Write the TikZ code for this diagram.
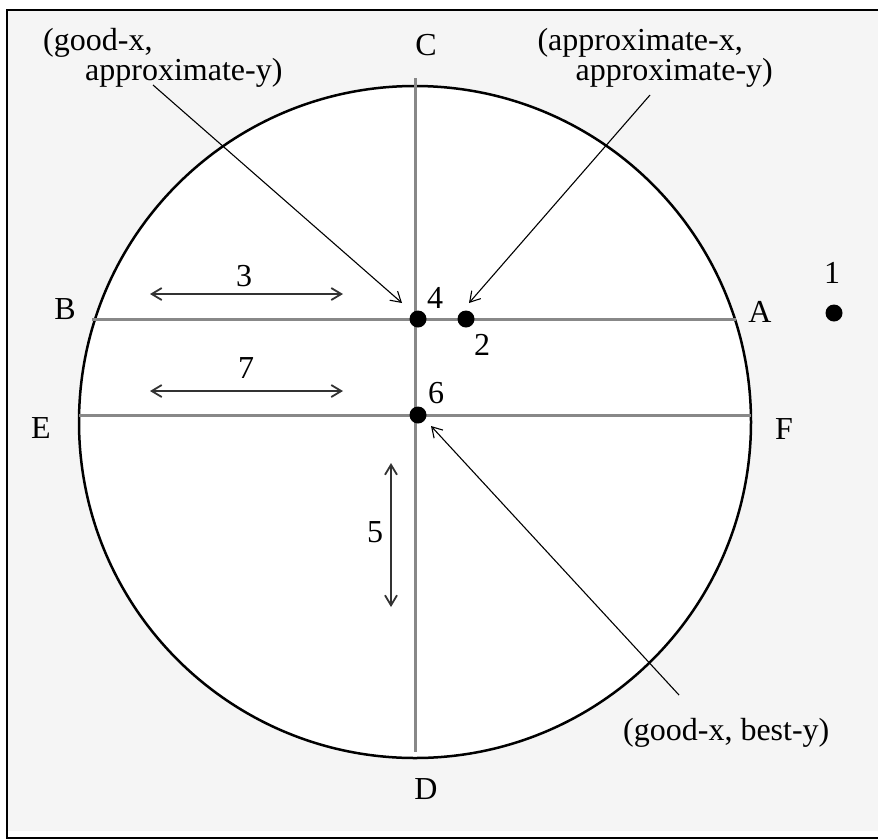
\documentclass[tikz,border=0pt]{standalone}
\usepackage{fontspec}
\setmainfont{Liberation Serif}
\usetikzlibrary{arrows.meta}
\definecolor{bgc}{RGB}{245,245,245}
\definecolor{gln}{RGB}{136,136,136}
\definecolor{dar}{RGB}{51,51,51}
\begin{document}
\begin{tikzpicture}[x=1pt,y=-1pt,
  lbl/.style={inner sep=0pt, font=\fontsize{32}{30}\selectfont},
  gline/.style={draw=gln, line width=3pt},
  dot/.style={circle, fill=black, inner sep=0pt, minimum size=17pt},
  dim/.style={draw=dar, line width=1.8pt, {Straight Barb[length=10pt,width=12pt]}-{Straight Barb[length=10pt,width=12pt]}},
  ptr/.style={draw=black, line width=1.1pt, -{Straight Barb[length=10pt,width=12pt]}}]
\fill[white] (0,0) rectangle (878,839);
\useasboundingbox (0,0) rectangle (878,839);
\fill[bgc] (7,10) rectangle (878,831);
\draw[line width=2.2pt] (878,10) -- (7,10) -- (7,838) -- (878,838);
% circle
\node[circle, draw, line width=2.5pt, fill=white, inner sep=0pt, minimum size=672pt] (circ) at (415,422) {};
% coordinates of the lines
\coordinate (Cend) at (415,78);
\coordinate (Dend) at (415,752);
\coordinate (Bend) at (92,319);
\coordinate (Aend) at (736,319);
\coordinate (Eend) at (79,415);
\coordinate (Fend) at (751,415);
\draw[gline] (Cend) -- (Dend);
\draw[gline] (Bend) -- (Aend);
\draw[gline] (Eend) -- (Fend);
% dots
\node[dot] (p4) at (418,319) {};
\node[dot] (p2) at (466,319) {};
\node[dot] (p6) at (418,415) {};
\node[dot] (p1) at (834,313) {};
% labels
\node[lbl] (l1) at (832,273) {1};
\node[lbl] (l2) at (482,345) {2};
\node[lbl] (l4) at (435,298) {4};
\node[lbl] (l6) at (436,393) {6};
\node[lbl] (lA) at (760,312) {A};
\node[lbl] (lB) at (65,309) {B};
\node[lbl] (lC) at (426,45) {C};
\node[lbl] (lD) at (426,789) {D};
\node[lbl] (lE) at (41,428) {E};
\node[lbl] (lF) at (784,429) {F};
\node[lbl] (l3) at (244,276) {3};
\node[lbl] (l7) at (246,368) {7};
\node[lbl] (l5) at (375,532) {5};
% dimension arrows
\coordinate (d3a) at (150,294); \coordinate (d3b) at (343,294);
\coordinate (d7a) at (150,391); \coordinate (d7b) at (343,391);
\coordinate (d5a) at (391,463); \coordinate (d5b) at (391,607);
\draw[dim] (d3a) -- (d3b);
\draw[dim] (d7a) -- (d7b);
\draw[dim] (d5a) -- (d5b);
% annotations
\node[lbl, anchor=base west] (ga1) at (43,50) {(good-x,};
\node[lbl, anchor=base west] (ga2) at (85,80) {approximate-y)};
\node[lbl, anchor=base east] (aa1) at (743,50) {(approximate-x,};
\node[lbl, anchor=base east] (aa2) at (773,80) {approximate-y)};
\node[lbl, anchor=base west] (gb) at (623,740) {(good-x, best-y)};
\coordinate (s1) at (153,85);  \coordinate (t1) at (402,303);
\coordinate (s2) at (650,95);  \coordinate (t2) at (469,303);
\coordinate (s3) at (679,695); \coordinate (t3) at (431,426);
\draw[ptr] (s1) -- (t1);
\draw[ptr] (s2) -- (t2);
\draw[ptr] (s3) -- (t3);
\end{tikzpicture}
\end{document}
